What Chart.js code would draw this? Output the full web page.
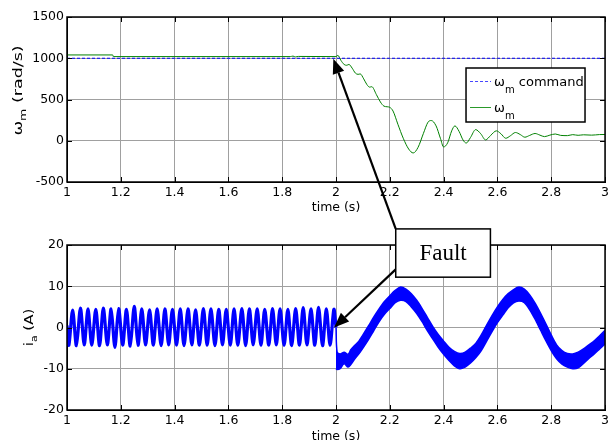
<!DOCTYPE html>
<html>
<head>
<meta charset="utf-8">
<script src="https://cdn.jsdelivr.net/npm/chart.js@4.4.1/dist/chart.umd.min.js"></script>
<style>
html,body{margin:0;padding:0;background:#fff;}
#wrap{position:relative;width:612px;height:440px;overflow:hidden;background:#fff;}
#wrap canvas{position:absolute;left:0;}
</style>
</head>
<body>
<div id="wrap">
<canvas id="speedChart" width="612" height="220" style="top:0px"></canvas>
<canvas id="currentChart" width="612" height="220" style="top:220px"></canvas>
<canvas id="overlay" width="612" height="440" style="top:0px"></canvas>
</div>
<script>
// ---------- data ----------
const timeTicks = [1, 1.2, 1.4, 1.6, 1.8, 2, 2.2, 2.4, 2.6, 2.8, 3];
const speedTicks = [-500, 0, 500, 1000, 1500];
const currentTicks = [-20, -10, 0, 10, 20];

const commandTime = [1, 3];
const commandSpeed = [1000, 1000];

const speedTime = [1.0, 1.17, 1.172, 1.83, 1.84, 1.85, 1.86, 2.0,
  2.007, 2.018, 2.03, 2.04, 2.048, 2.06, 2.072, 2.082, 2.09, 2.103,
  2.115, 2.125, 2.133, 2.15, 2.165, 2.178, 2.19, 2.2, 2.212, 2.23,
  2.25, 2.27, 2.287, 2.305, 2.325, 2.342, 2.354, 2.372, 2.388, 2.4,
  2.415, 2.43, 2.442, 2.458, 2.472, 2.484, 2.5, 2.519, 2.538, 2.556,
  2.575, 2.596, 2.613, 2.631, 2.648, 2.667, 2.685, 2.702, 2.72, 2.74,
  2.758, 2.775, 2.795, 2.815, 2.835, 2.86, 2.88, 2.9, 2.92, 2.95,
  2.98, 3.0];
const speedValue = [1040, 1040, 1020, 1020, 1026, 1016, 1022, 1020,
  1035, 975, 925, 915, 925, 880, 820, 805, 810, 750,
  680, 650, 655, 560, 470, 420, 412, 405, 360, 200,
  30, -100, -148, -80, 90, 225, 245, 180, 30, -75,
  -25, 120, 180, 110, 10, -28, 40, 135, 85, 10,
  65, 120, 85, 30, 60, 100, 75, 43, 65, 88,
  68, 50, 68, 82, 65, 62, 74, 66, 72, 68,
  75, 76];

const preTime = [1.000,
  1.007, 1.021, 1.035, 1.050, 1.064, 1.078, 1.092,
  1.107, 1.121, 1.135, 1.150, 1.164, 1.178, 1.192,
  1.207, 1.221, 1.235, 1.250, 1.264, 1.278, 1.292,
  1.307, 1.321, 1.335, 1.350, 1.364, 1.378, 1.392,
  1.407, 1.421, 1.435, 1.450, 1.464, 1.478, 1.492,
  1.507, 1.521, 1.535, 1.550, 1.564, 1.578, 1.592,
  1.607, 1.621, 1.635, 1.650, 1.664, 1.678, 1.692,
  1.707, 1.721, 1.735, 1.750, 1.764, 1.778, 1.792,
  1.807, 1.821, 1.835, 1.850, 1.864, 1.878, 1.892,
  1.907, 1.921, 1.935, 1.950, 1.964, 1.978, 1.992,
  2.000];
const preCurrent = [0.5,
  -4.3, 4.2, -4.4, 4.7, -4.2, 4.5, -4.3,
  4.4, -4.4, 4.7, -4.2, 4.5, -4.8, 4.6,
  -4.3, 4.4, -4.5, 5.1, -4.3, 4.5, -4.2,
  4.3, -4.3, 4.5, -4.4, 4.5, -4.2, 4.4,
  -4.3, 4.5, -4.4, 4.5, -4.2, 4.3, -4.3,
  4.6, -4.3, 4.5, -4.4, 4.4, -4.2, 4.4,
  -4.3, 4.5, -4.3, 4.6, -4.4, 4.5, -4.2,
  4.5, -4.3, 4.4, -4.3, 4.6, -4.2, 4.5,
  -4.3, 4.4, -4.4, 4.6, -4.3, 4.8, -4.2,
  4.5, -4.3, 4.9, -4.4, 4.5, -4.3, 4.4,
  0.0];

const postTime = [2.000, 2.004, 2.015, 2.03, 2.045, 2.055, 2.07, 2.085,
  2.10, 2.12, 2.14, 2.16, 2.18, 2.20, 2.22, 2.24, 2.26, 2.28,
  2.30, 2.32, 2.34, 2.36, 2.38, 2.40, 2.42, 2.44, 2.46, 2.48,
  2.50, 2.52, 2.54, 2.56, 2.58, 2.60, 2.62, 2.64, 2.66, 2.68,
  2.70, 2.72, 2.74, 2.76, 2.78, 2.80, 2.82, 2.84, 2.86, 2.88,
  2.90, 2.92, 2.94, 2.96, 2.98, 3.00];
const postUpper = [0.0, -5.9, -6.4, -6.0, -6.5, -5.4, -4.3, -3.3,
  -1.8, 0.3, 2.5, 4.5, 6.3, 7.7, 9.0, 9.8, 9.3, 8.2,
  6.6, 4.6, 2.4, 0.2, -1.7, -3.3, -4.8, -5.8, -6.3, -6.0,
  -5.0, -3.8, -1.8, 0.6, 2.9, 5.0, 6.8, 8.2, 9.2, 9.8,
  9.3, 7.9, 5.9, 3.5, 0.9, -1.8, -4.2, -5.6, -6.3, -6.4,
  -6.0, -5.2, -4.2, -3.2, -2.0, -0.7];
const postLower = [-10.0, -10.2, -10.0, -8.8, -9.6, -9.0, -7.6, -6.4,
  -5.0, -3.0, -0.8, 1.4, 3.2, 4.6, 6.0, 6.6, 6.3, 5.0,
  3.4, 1.4, -0.8, -2.8, -4.8, -6.5, -8.0, -9.3, -10.0, -9.6,
  -8.6, -7.3, -5.6, -3.3, -1.0, 1.2, 3.0, 4.8, 6.0, 6.4,
  6.0, 4.3, 2.0, -0.6, -3.2, -5.6, -7.6, -8.9, -9.6, -10.0,
  -9.8, -8.7, -7.5, -6.4, -5.2, -4.0];

const xTitle = 'time (s)';
const speedTitle = ['ω', 'm', ' (rad/s)'];
const currentTitle = ['i', 'a', ' (A)'];
const legendText = [['ω', 'm', ' command'], ['ω', 'm', '']];
const faultLabel = 'Fault';

// annotation placement (data coordinates)
const faultBox = {t0: 2.222, t1: 2.574, top: 23.9, bottom: 12.2};
const arrowSpeedTip = {t: 1.99, v: 995};
const arrowCurrentStart = 14.1;
const arrowCurrentTip = {t: 1.993, v: 0};

// ---------- helpers ----------
const FONT = 'DejaVu Sans';
const tickFont = {family: FONT, size: 12.5};
const pts = (xs, ys) => xs.map((x, i) => ({x: x, y: ys[i]}));

function drawRich(ctx, parts, x, y, align, size, subSize, subDy) {
  const items = parts.map((t, i) => ({t: t, s: i === 1 ? subSize : size, dy: i === 1 ? subDy : 0}));
  let total = 0;
  items.forEach(p => { ctx.font = p.s + 'px "' + FONT + '"'; p.w = ctx.measureText(p.t).width; total += p.w; });
  let cx = align === 'center' ? x - total / 2 : x;
  items.forEach(p => { ctx.font = p.s + 'px "' + FONT + '"'; ctx.fillText(p.t, cx, y + p.dy); cx += p.w; });
}

function makeFrame(titleParts, titleX, titleShift, titleStretch) {
  return {
    id: 'frame',
    afterDatasetsDraw(chart) {
      const {ctx, chartArea: a, scales: {x, y}} = chart;
      ctx.save();
      ctx.strokeStyle = '#000';
      ctx.lineWidth = 1;
      ctx.beginPath();
      x.ticks.forEach(t => {
        const p = Math.round(x.getPixelForValue(t.value)) + 0.5;
        ctx.moveTo(p, a.bottom); ctx.lineTo(p, a.bottom - 5);
        ctx.moveTo(p, a.top); ctx.lineTo(p, a.top + 5);
      });
      y.ticks.forEach(t => {
        const p = Math.round(y.getPixelForValue(t.value)) + 0.5;
        ctx.moveTo(a.left, p); ctx.lineTo(a.left + 5, p);
        ctx.moveTo(a.right, p); ctx.lineTo(a.right - 5, p);
      });
      ctx.stroke();
      ctx.lineWidth = 1.5;
      ctx.strokeRect(a.left, a.top, a.right - a.left, a.bottom - a.top);
      // y title (rotated, with subscript)
      ctx.fillStyle = '#000';
      ctx.textBaseline = 'alphabetic';
      ctx.translate(titleX, (a.top + a.bottom) / 2 + titleShift);
      ctx.rotate(-Math.PI / 2);
      ctx.scale(titleStretch, 1);
      drawRich(ctx, titleParts, 0, 4.5, 'center', 12.5, 9, 4);
      ctx.restore();
    }
  };
}

const legendPlugin = {
  id: 'legendBox',
  afterDraw(chart) {
    const {ctx, chartArea: a} = chart;
    const bx = a.right - 139, by = a.top + 51, bw = 119, bh = 54;
    ctx.save();
    ctx.fillStyle = '#fff';
    ctx.fillRect(bx, by, bw, bh);
    ctx.strokeStyle = '#000';
    ctx.lineWidth = 1.5;
    ctx.strokeRect(bx, by, bw, bh);
    const ds = chart.data.datasets;
    const sampleColors = ['#4646ff', '#2a9a2a'];
    const rows = [by + 13.5, by + 39.5];
    rows.forEach((ry, i) => {
      ctx.beginPath();
      ctx.strokeStyle = sampleColors[i];
      ctx.lineWidth = 1;
      ctx.setLineDash(ds[i].borderDash || []);
      ctx.moveTo(bx + 4, ry); ctx.lineTo(bx + 25, ry);
      ctx.stroke();
      ctx.setLineDash([]);
      ctx.fillStyle = '#000';
      drawRich(ctx, legendText[i], bx + 28, ry + 4, 'left', 13, 10, 7);
    });
    ctx.restore();
  }
};

function baseOptions(cfg) {
  return {
    responsive: false, animation: false, events: [],
    layout: {padding: {left: 0, right: 5, top: cfg.padTop, bottom: 0}},
    plugins: {legend: {display: false}, tooltip: {enabled: false}},
    elements: {point: {radius: 0}},
    scales: {
      x: {
        type: 'linear', min: 1, max: 3,
        afterBuildTicks: s => { s.ticks = timeTicks.map(v => ({value: v})); },
        afterFit: s => { s.height = cfg.xHeight; },
        ticks: {font: tickFont, color: '#000', padding: 3, maxRotation: 0, autoSkip: false, callback: v => String(v)},
        grid: {color: '#a0a0a0', lineWidth: 1, drawTicks: false},
        border: {display: true, color: '#000', width: 1},
        title: {display: true, text: xTitle, font: tickFont, color: '#000', padding: {top: 0, bottom: cfg.titlePad}}
      },
      y: {
        type: 'linear', min: cfg.yMin, max: cfg.yMax,
        afterBuildTicks: s => { s.ticks = cfg.yTicks.map(v => ({value: v})); },
        afterFit: s => { s.width = 67; },
        ticks: {font: tickFont, color: '#000', padding: 3, callback: v => String(v)},
        grid: {color: '#a0a0a0', lineWidth: 1, drawTicks: false},
        border: {display: true, color: '#000', width: 1}
      }
    }
  };
}

// ---------- charts ----------
const speedChart = new Chart(document.getElementById('speedChart'), {
  type: 'line',
  data: {
    datasets: [
      {label: 'ωm command', data: pts(commandTime, commandSpeed), borderColor: '#0000ff', borderWidth: 1, borderDash: [3, 2], pointRadius: 0, tension: 0},
      {label: 'ωm', data: pts(speedTime, speedValue), borderColor: '#008000', borderWidth: 1, pointRadius: 0, cubicInterpolationMode: 'monotone'}
    ]
  },
  options: baseOptions({padTop: 17, xHeight: 38, titlePad: 4.5, yMin: -500, yMax: 1500, yTicks: speedTicks}),
  plugins: [makeFrame(speedTitle, 17, -9, 1.4)]
    .concat([legendPlugin])
});

const currentChart = new Chart(document.getElementById('currentChart'), {
  type: 'line',
  data: {
    datasets: [
      {label: 'pre', data: pts(preTime, preCurrent), borderColor: '#0000ff', borderWidth: 3.2, pointRadius: 0, tension: 0.3, fill: false},
      {label: 'lower', data: pts(postTime, postLower), borderColor: '#0000ff', borderWidth: 1.5, pointRadius: 0, tension: 0.3, fill: false},
      {label: 'upper', data: pts(postTime, postUpper), borderColor: '#0000ff', borderWidth: 1.5, pointRadius: 0, tension: 0.3, fill: '-1', backgroundColor: '#0000ff'}
    ]
  },
  options: baseOptions({padTop: 25, xHeight: 30, titlePad: -4, yMin: -20, yMax: 20, yTicks: currentTicks}),
  plugins: [makeFrame(currentTitle, 28, 0, 1.2)]
});

// ---------- annotation overlay ----------
function arrow(ctx, x0, y0, x1, y1) {
  const ang = Math.atan2(y1 - y0, x1 - x0);
  const L = 15, W = 6;
  const bx = x1 - L * Math.cos(ang), by = y1 - L * Math.sin(ang);
  ctx.beginPath(); ctx.moveTo(x0, y0); ctx.lineTo(bx, by); ctx.lineWidth = 2.2; ctx.stroke();
  ctx.beginPath();
  ctx.moveTo(x1, y1);
  ctx.lineTo(bx + W * Math.sin(ang), by - W * Math.cos(ang));
  ctx.lineTo(bx - W * Math.sin(ang), by + W * Math.cos(ang));
  ctx.closePath(); ctx.fill();
}

(function drawOverlay() {
  const ov = document.getElementById('overlay');
  const ctx = ov.getContext('2d');
  const off1 = document.getElementById('speedChart').offsetTop;
  const off2 = document.getElementById('currentChart').offsetTop;
  const sx = speedChart.scales.x, sy = speedChart.scales.y;
  const cx = currentChart.scales.x, cy = currentChart.scales.y;
  const x0 = cx.getPixelForValue(faultBox.t0), x1 = cx.getPixelForValue(faultBox.t1);
  const y0 = cy.getPixelForValue(faultBox.top) + off2, y1 = cy.getPixelForValue(faultBox.bottom) + off2;
  ctx.strokeStyle = '#000'; ctx.fillStyle = '#000';
  arrow(ctx, x0, y0, sx.getPixelForValue(arrowSpeedTip.t), sy.getPixelForValue(arrowSpeedTip.v) + off1);
  arrow(ctx, x0, cy.getPixelForValue(arrowCurrentStart) + off2, cx.getPixelForValue(arrowCurrentTip.t), cy.getPixelForValue(arrowCurrentTip.v) + off2);
  ctx.fillStyle = '#fff';
  ctx.fillRect(x0, y0, x1 - x0, y1 - y0);
  ctx.lineWidth = 1.5; ctx.strokeStyle = '#000';
  ctx.strokeRect(x0, y0, x1 - x0, y1 - y0);
  ctx.fillStyle = '#000';
  ctx.font = '23px "Liberation Serif"';
  ctx.textAlign = 'center'; ctx.textBaseline = 'middle';
  ctx.fillText(faultLabel, (x0 + x1) / 2, (y0 + y1) / 2 + 1);
})();
</script>
</body>
</html>
